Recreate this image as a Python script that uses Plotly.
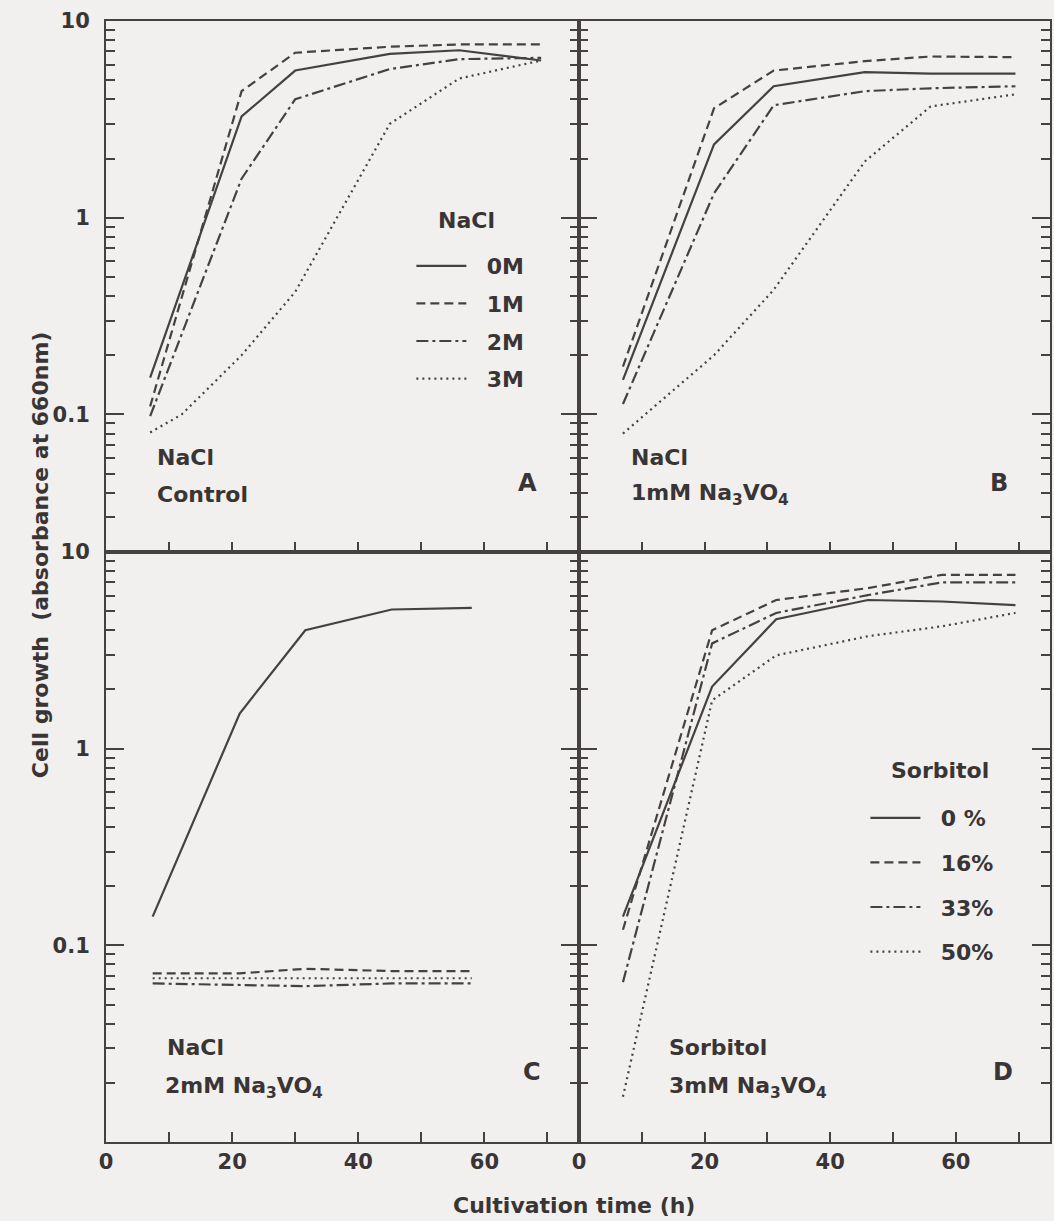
import math
import plotly.graph_objects as go

# ---------------- data ----------------
# Panel A: NaCl, control
t_A = [7, 21.5, 30, 45, 56, 69]
A_0M = [0.154, 3.27, 5.6, 6.8, 7.1, 6.3]
A_1M = [0.11, 4.4, 6.9, 7.4, 7.6, 7.6]
A_2M = [0.098, 1.58, 4.0, 5.7, 6.4, 6.5]
t_A3 = [7, 12, 21.5, 30, 45, 56, 69]
A_3M = [0.081, 0.10, 0.20, 0.42, 3.0, 5.1, 6.3]

# Panel B: NaCl, 1mM Na3VO4
t_B = [7, 21.5, 31, 45.5, 56, 69.5]
B_0M = [0.15, 2.36, 4.66, 5.5, 5.4, 5.4]
B_1M = [0.175, 3.6, 5.6, 6.25, 6.6, 6.55]
B_2M = [0.113, 1.33, 3.73, 4.4, 4.55, 4.66]
B_3M = [0.08, 0.20, 0.43, 1.93, 3.68, 4.24]

# Panel C: NaCl, 2mM Na3VO4
t_C = [7.4, 21.2, 31.6, 45.3, 58]
C_0M = [0.14, 1.51, 4.0, 5.1, 5.2]
C_1M = [0.072, 0.072, 0.076, 0.074, 0.074]
C_2M = [0.064, 0.063, 0.062, 0.064, 0.064]
C_3M = [0.068, 0.068, 0.068, 0.068, 0.068]

# Panel D: Sorbitol, 3mM Na3VO4
t_D = [7, 21.2, 31.4, 46, 57.8, 69.5]
D_0 = [0.14, 2.07, 4.55, 5.7, 5.6, 5.37]
D_16 = [0.12, 4.0, 5.7, 6.55, 7.65, 7.65]
D_33 = [0.065, 3.43, 4.9, 6.04, 7.0, 7.0]
D_50 = [0.017, 1.76, 2.98, 3.73, 4.19, 4.9]

nacl_names = ["0M", "1M", "2M", "3M"]
sorb_names = ["0 %", "16%", "33%", "50%"]

x_ticks = [0, 10, 20, 30, 40, 50, 60, 70]
x_ticktext = ["0", "", "20", "", "40", "", "60", ""]
y_ticks = [0.1, 1, 10]
y_ticktext = ["0.1", "1", "10"]

# ---------------- style ----------------
W, H = 1054, 1221
ML, MR, MT, MB = 106, 2, 21, 79
PW, PH = W - ML - MR, H - MT - MB
DIV_X = 580      # px of the vertical divider
MID_Y = 552      # px of the horizontal divider

INK = "#464141"
TXT = "#3a3535"
BG = "#f1f0ee"
FONT = "DejaVu Sans"
LW = 2.2
dashes = ["solid", "9px,5px", "12px,4px,3px,4px", "2px,4px"]


def px(xp):
    return (xp - ML) / PW


def py(yp):
    return (H - MB - yp) / PH


fig = go.Figure()

panels = [
    ("x", "y", [(t_A, A_0M), (t_A, A_1M), (t_A, A_2M), (t_A3, A_3M)], nacl_names, "legend", True),
    ("x2", "y2", [(t_B, B_0M), (t_B, B_1M), (t_B, B_2M), (t_B, B_3M)], nacl_names, "legend", False),
    ("x3", "y3", [(t_C, C_0M), (t_C, C_1M), (t_C, C_2M), (t_C, C_3M)], nacl_names, "legend", False),
    ("x4", "y4", [(t_D, D_0), (t_D, D_16), (t_D, D_33), (t_D, D_50)], sorb_names, "legend2", True),
]

for xa, ya, series, names, leg, show in panels:
    for i, ((tt, vv), nm) in enumerate(zip(series, names)):
        fig.add_trace(go.Scatter(
            x=tt, y=vv, mode="lines", name="&nbsp;&nbsp;" + nm,
            line=dict(color=INK, width=LW, dash=dashes[i]),
            xaxis=xa, yaxis=ya, showlegend=show, legend=leg,
            legendgroup=leg + nm, hoverinfo="skip",
        ))

xd_left = [0, px(DIV_X)]
xd_right = [px(DIV_X), 1]
yd_top = [py(MID_Y), 1]
yd_bot = [0, py(MID_Y)]

minor_vals = [k * 10 ** e for e in (-2, -1, 0) for k in range(2, 10)]

tickfont = dict(family=FONT, size=21, color=TXT, weight="bold")


def xaxis(domain, anchor, labels):
    return dict(
        domain=domain, anchor=anchor, range=[0, 75],
        showline=True, linecolor=INK, linewidth=2, mirror=True,
        ticks="inside", ticklen=10, tickwidth=2, tickcolor=INK,
        tickvals=x_ticks, ticktext=x_ticktext,
        showticklabels=labels, tickfont=tickfont,
        showgrid=False, zeroline=False,
    )


def yaxis(domain, anchor, rng, labels):
    return dict(
        domain=domain, anchor=anchor, type="log", range=rng,
        showline=True, linecolor=INK, linewidth=2, mirror="ticks",
        ticks="inside", ticklen=18, tickwidth=2, tickcolor=INK,
        tickvals=y_ticks, ticktext=y_ticktext,
        showticklabels=labels, tickfont=tickfont, ticklabelstandoff=10,
        minor=dict(ticks="inside", ticklen=9, tickwidth=2, tickcolor=INK,
                   tickvals=minor_vals, showgrid=False),
        showgrid=False, zeroline=False,
    )


top_rng = [math.log10(0.02), 1]
bot_rng = [-2, 1]

leg_font = dict(family=FONT, size=22, color=TXT, weight="bold")

fig.update_layout(
    width=W, height=H,
    margin=dict(l=ML, r=MR, t=MT, b=MB),
    paper_bgcolor=BG, plot_bgcolor=BG,
    font=dict(family=FONT, color=TXT),
    xaxis=xaxis(xd_left, "y", False),
    yaxis=yaxis(yd_top, "x", top_rng, True),
    xaxis2=xaxis(xd_right, "y2", False),
    yaxis2=yaxis(yd_top, "x2", top_rng, False),
    xaxis3=xaxis(xd_left, "y3", True),
    yaxis3=yaxis(yd_bot, "x3", bot_rng, True),
    xaxis4=xaxis(xd_right, "y4", True),
    yaxis4=yaxis(yd_bot, "x4", bot_rng, False),
    legend=dict(
        x=px(412), y=py(245), xanchor="left", yanchor="top",
        bgcolor="rgba(0,0,0,0)", borderwidth=0, font=leg_font,
        itemwidth=50, tracegroupgap=6, traceorder="grouped",
    ),
    legend2=dict(
        x=px(867), y=py(797), xanchor="left", yanchor="top",
        bgcolor="rgba(0,0,0,0)", borderwidth=0, font=leg_font,
        itemwidth=50, tracegroupgap=13, traceorder="grouped",
    ),
)

ann_font = dict(family=FONT, size=22, color=TXT, weight="bold")


def label(text, xp, yp, xanchor="left", size=22, angle=0):
    f = dict(ann_font)
    f["size"] = size
    fig.add_annotation(text=text, x=px(xp), y=py(yp), xref="paper", yref="paper",
                       xanchor=xanchor, yanchor="middle", showarrow=False,
                       font=f, textangle=angle)


VO = "Na<sub>3</sub>VO<sub>4</sub>"
# legend headings
label("NaCl", 467, 220, "center")
label("Sorbitol", 942, 770, "center")
# panel texts
label("NaCl", 155, 458)
label("Control", 155, 494)
label("A", 528, 483, "center", 24)
label("NaCl", 630, 458)
label("1mM " + VO, 630, 494)
label("B", 1001, 483, "center", 24)
label("NaCl", 165, 1047)
label("2mM " + VO, 163, 1087)
label("C", 533, 1072, "center", 24)
label("Sorbitol", 668, 1047)
label("3mM " + VO, 668, 1087)
label("D", 1005, 1072, "center", 24)

# axis titles
label("Cell growth&nbsp; (absorbance at 660nm)", 40, 555, "center", 22, -90)
label("Cultivation time (h)", 575, 1205, "center", 22)

fig.write_html(
    "out.html",
    config={"displayModeBar": False},
    post_script="document.body.style.margin='0';document.body.style.overflow='hidden';",
)
